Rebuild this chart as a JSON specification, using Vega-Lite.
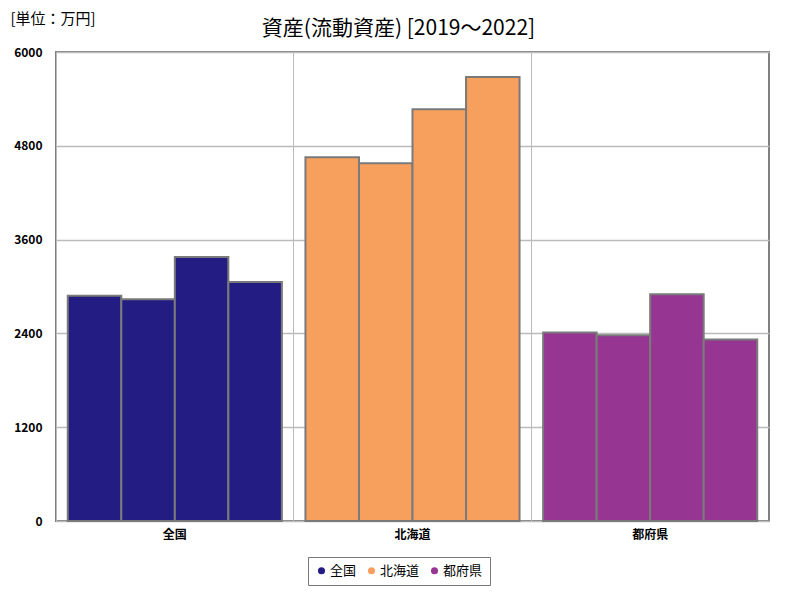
{
  "$schema": "https://vega.github.io/schema/vega-lite/v6.json",
  "width": 713,
  "height": 469,
  "autosize": {"type": "none"},
  "padding": {"left": 56, "top": 52, "right": 31, "bottom": 79},
  "title": {
    "text": "資産(流動資産) [2019～2022]",
    "font": "Noto Sans CJK JP",
    "fontSize": 21,
    "fontWeight": "normal",
    "color": "#000000",
    "anchor": "middle",
    "baseline": "middle",
    "dx": -14,
    "dy": 39,
    "offset": 0
  },
  "config": {
    "view": {"stroke": "#808080", "strokeWidth": 2},
    "font": "Noto Sans CJK JP"
  },
  "data": {
    "values": [
      {"region": "全国", "year": 2019, "value": 2883},
      {"region": "全国", "year": 2020, "value": 2836},
      {"region": "全国", "year": 2021, "value": 3377},
      {"region": "全国", "year": 2022, "value": 3057},
      {"region": "北海道", "year": 2019, "value": 4653},
      {"region": "北海道", "year": 2020, "value": 4576},
      {"region": "北海道", "year": 2021, "value": 5267},
      {"region": "北海道", "year": 2022, "value": 5680},
      {"region": "都府県", "year": 2019, "value": 2410},
      {"region": "都府県", "year": 2020, "value": 2376},
      {"region": "都府県", "year": 2021, "value": 2900},
      {"region": "都府県", "year": 2022, "value": 2321}
    ]
  },
  "mark": {"type": "bar", "stroke": "#7a7a7a", "strokeWidth": 2},
  "encoding": {
    "x": {
      "field": "region",
      "type": "nominal",
      "sort": null,
      "scale": {"paddingInner": 0, "paddingOuter": 0},
      "axis": {
        "title": null,
        "labelAngle": 0,
        "labelFont": "Noto Sans CJK JP",
        "labelFontSize": 12,
        "labelFontWeight": "bold",
        "labelColor": "#000000",
        "labelPadding": 8,
        "domain": false,
        "ticks": false,
        "grid": true,
        "gridColor": "#bbbbbb",
        "gridWidth": 1,
        "bandPosition": 0
      }
    },
    "xOffset": {
      "field": "year",
      "type": "ordinal",
      "scale": {"paddingInner": 0, "paddingOuter": 0.22}
    },
    "y": {
      "field": "value",
      "type": "quantitative",
      "scale": {"domain": [0, 6000], "nice": false},
      "axis": {
        "values": [0, 1200, 2400, 3600, 4800, 6000],
        "format": "d",
        "title": "[単位：万円]",
        "titleAngle": 0,
        "titleAlign": "left",
        "titleBaseline": "middle",
        "titleX": -46,
        "titleY": -34,
        "titleFont": "Noto Sans CJK JP",
        "titleFontSize": 15,
        "titleFontWeight": "normal",
        "titleColor": "#000000",
        "labelFont": "Noto Sans CJK JP",
        "labelFontSize": 12,
        "labelFontWeight": "bold",
        "labelColor": "#000000",
        "labelPadding": 14,
        "domain": false,
        "ticks": false,
        "grid": true,
        "gridColor": "#bbbbbb",
        "gridWidth": 1.5
      }
    },
    "color": {
      "field": "region",
      "type": "nominal",
      "sort": null,
      "scale": {
        "domain": ["全国", "北海道", "都府県"],
        "range": ["#231d83", "#f7a05e", "#973593"]
      },
      "legend": {
        "title": null,
        "orient": "none",
        "direction": "horizontal",
        "legendX": 252,
        "legendY": 505,
        "symbolType": "circle",
        "symbolSize": 50,
        "symbolStrokeWidth": 0,
        "labelFont": "Noto Sans CJK JP",
        "labelFontSize": 13,
        "labelColor": "#000000",
        "labelOffset": 2,
        "columnPadding": 8,
        "padding": 7,
        "strokeColor": "#777777",
        "fillColor": "#ffffff",
        "encode": {"legend": {"update": {"strokeWidth": {"value": 2}}}}
      }
    }
  }
}
